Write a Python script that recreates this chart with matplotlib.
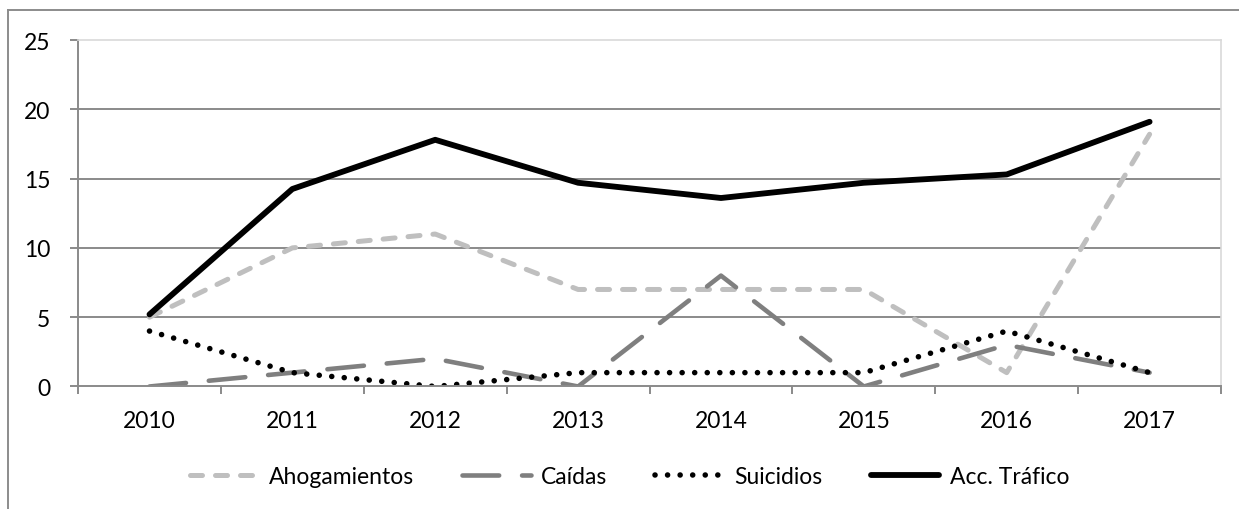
"""
Fallecimientos por tipo de accidente, 2010-2017 (gráfico de líneas estilo Excel).
"""

import matplotlib
matplotlib.use("Agg")
import matplotlib.pyplot as plt
from matplotlib.lines import Line2D

# Datos
years = ["2010", "2011", "2012", "2013", "2014", "2015", "2016", "2017"]
ahogamientos = [5, 10, 11, 7, 7, 7, 1, 18.2]
caidas = [0, 1, 2, 0, 8, 0, 3, 1]
suicidios = [4, 1, 0, 1, 1, 1, 4, 1]
trafico = [5.2, 14.25, 17.8, 14.7, 13.6, 14.7, 15.3, 19.1]

GRID = "#8a8a8a"
FS = 16.5

plt.rcParams["font.family"] = ["Lato", "DejaVu Sans"]

fig = plt.figure(figsize=(12.39, 5.10), dpi=100)
ax = fig.add_axes([0.063, 0.2402, 0.9225, 0.6794])

x = list(range(len(years)))

ax.plot(x, ahogamientos, color="#bfbfbf", lw=3.6, dashes=(2.4, 2.6),
        dash_capstyle="round", solid_joinstyle="round", label="Ahogamientos")
ax.plot(x, caidas, color="#7f7f7f", lw=3.3, dashes=(8, 5),
        dash_capstyle="round", solid_joinstyle="round", label="Caídas")
ax.plot(x, suicidios, color="black", lw=4.0, dashes=(0.01, 2.25),
        dash_capstyle="round", label="Suicidios")
ax.plot(x, trafico, color="black", lw=4.2, solid_capstyle="round",
        solid_joinstyle="round", label="Acc. Tráfico")

# ejes
ax.set_xlim(-0.5, len(years) - 0.5)
ax.set_ylim(0, 25)
ax.set_yticks([0, 5, 10, 15, 20, 25])
for v in [5, 10, 15, 20]:
    ax.axhline(v, color=GRID, lw=1.4, zorder=0)

ax.set_xticks([i - 0.5 for i in range(len(years) + 1)])
ax.set_xticklabels([])
ax.set_xticks(x, minor=True)
ax.set_xticklabels(years, minor=True)
ax.tick_params(axis="x", which="major", direction="out", length=6,
               width=1.4, color=GRID)
ax.tick_params(axis="x", which="minor", length=0, pad=17, labelsize=FS)
ax.tick_params(axis="y", direction="out", length=6, width=1.4, color=GRID,
               pad=14, labelsize=FS)

for side in ["left", "bottom"]:
    ax.spines[side].set_color(GRID)
    ax.spines[side].set_linewidth(1.4)
for side in ["top", "right"]:
    ax.spines[side].set_color("#d9d9d9")
    ax.spines[side].set_linewidth(1.2)

fig.legend(loc="center", bbox_to_anchor=(0.508, 1 - 478 / 510), ncol=4,
           frameon=False, fontsize=FS, handlelength=3.0, handletextpad=0.45,
           columnspacing=2.1)

# marco exterior (solo visible arriba e izquierda)
fig.add_artist(Line2D([8 / 1239, 1], [1 - 11 / 510, 1 - 11 / 510],
                      transform=fig.transFigure, color="#8c8c8c", lw=1.4))
fig.add_artist(Line2D([8 / 1239, 8 / 1239], [0, 1 - 11 / 510],
                      transform=fig.transFigure, color="#8c8c8c", lw=1.4))

fig.savefig("out.png", dpi=100)
